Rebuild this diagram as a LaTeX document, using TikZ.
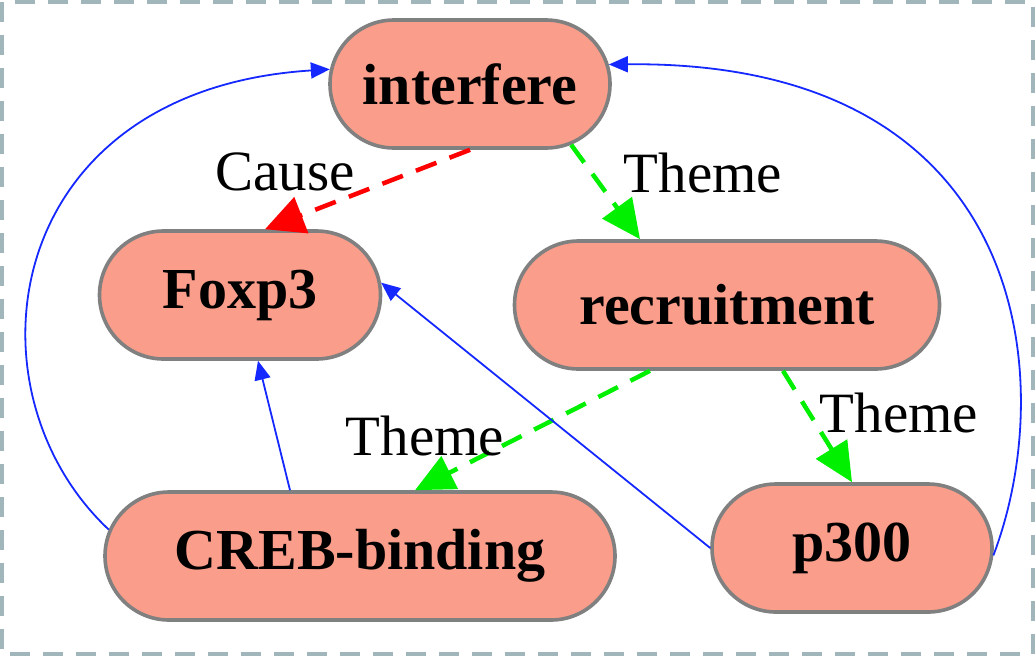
\documentclass[tikz,border=0pt]{standalone}
\usepackage{fontspec}
\setmainfont{Liberation Serif}
\usetikzlibrary{shapes.misc,arrows.meta,calc}
\definecolor{nodefill}{RGB}{250,157,138}
\definecolor{nodeline}{RGB}{128,128,128}
\definecolor{framecol}{RGB}{160,182,186}
\definecolor{eblue}{RGB}{20,40,255}
\definecolor{egreen}{RGB}{0,240,0}
\begin{document}
\begin{tikzpicture}[x=1pt,y=-1pt,
  ev/.style={rounded rectangle, draw=nodeline, line width=3.6pt, fill=nodefill,
    minimum height=128pt, inner sep=0pt, font=\fontsize{58}{60}\selectfont\bfseries},
  lbl/.style={font=\fontsize{57}{60}\selectfont, inner sep=0pt},
  theme/.style={draw=egreen, line width=4.5pt, dash pattern=on 22pt off 14pt,
    -{Triangle[length=39pt,width=36pt]}},
  cause/.style={draw=red, line width=4.5pt, dash pattern=on 22pt off 14pt,
    -{Triangle[length=39pt,width=38pt]}},
  rel/.style={draw=eblue, line width=1.8pt, -{Triangle[length=19pt,width=16pt]}}]
\useasboundingbox (0,0) rectangle (1035,656);
\draw[framecol, line width=4pt, dash pattern=on 20pt off 13pt] (2,2) rectangle (1033,654);

\node[ev, minimum width=280pt] (interfere) at (470,84) {interfere};
\node[ev, minimum width=281pt] (foxp3) at (240,295) {Foxp3};
\node[ev, minimum width=425pt] (recruitment) at (727,305) {recruitment};
\node[ev, minimum width=510pt] (creb) at (360,556) {CREB-binding};
\node[ev, minimum width=280pt] (p300) at (852,548) {p300};

\draw[cause] (interfere.south) -- ([xshift=25pt]foxp3.north);
\draw[theme] (interfere.-31) -- ([xshift=-87pt]recruitment.north);
\draw[theme] ([xshift=-77pt]recruitment.south) -- ([xshift=55pt]creb.north);
\draw[theme] ([xshift=56pt]recruitment.south) -- (p300.north);
\draw[rel] ([xshift=-70pt]creb.north) -- ([xshift=18pt]foxp3.south);
\draw[rel] (p300.west) -- (foxp3.5);
\draw[rel] (creb.174) .. controls (-40,390) and (0,90) .. (interfere.174);
\draw[rel] (p300.-3) .. controls (1060,380) and (1030,60) .. (interfere.8);

\node[lbl] (lcause) at (285,172) {Cause};
\node[lbl] (lt1) at (703,173) {Theme};
\node[lbl] (lt2) at (425,436) {Theme};
\node[lbl] (lt3) at (899,413) {Theme};
\end{tikzpicture}
\end{document}
